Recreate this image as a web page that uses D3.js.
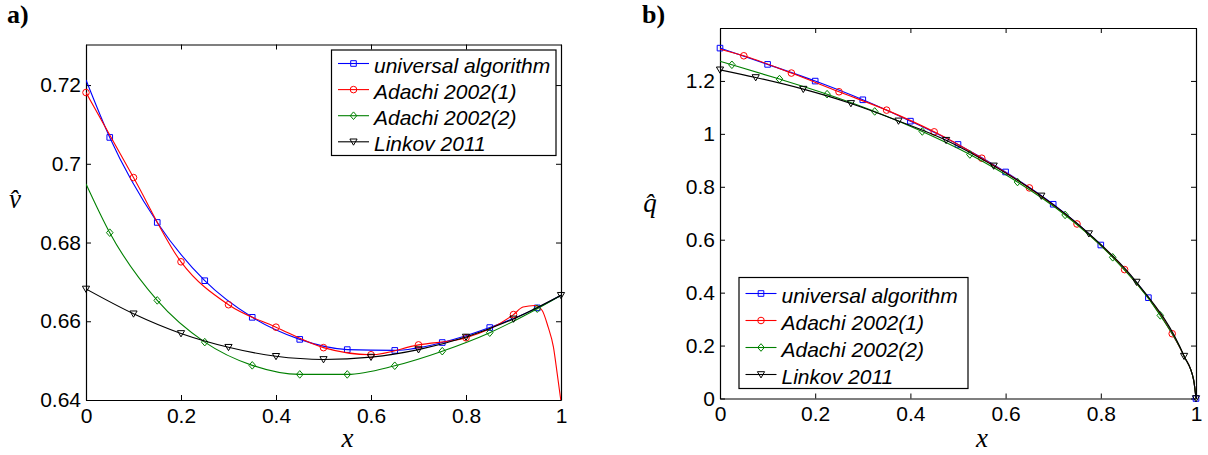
<!DOCTYPE html>
<html><head><meta charset="utf-8">
<script src="https://cdn.jsdelivr.net/npm/d3@7"></script>
<style>body{margin:0;background:#fff}svg{display:block}</style>
</head><body><svg id="c" width="1208" height="455"></svg>
<script>
// ---------- shared ----------
const xTicks = [0, 0.2, 0.4, 0.6, 0.8, 1];
const xTickLabels = ["0", "0.2", "0.4", "0.6", "0.8", "1"];
const seriesNames = ["universal algorithm", "Adachi 2002(1)", "Adachi 2002(2)", "Linkov 2011"];
const seriesColors = ["#0000ff", "#ff0000", "#008000", "#000000"];
const seriesMarkers = ["square", "circle", "diamond", "triangle"];

// ---------- panel a) ----------
const aYTicks = [0.64, 0.66, 0.68, 0.70, 0.72];
const aYTickLabels = ["0.64", "0.66", "0.68", "0.7", "0.72"];
const aBlueX = [0, 0.05, 0.15, 0.25, 0.35, 0.45, 0.55, 0.65, 0.75, 0.85, 0.95, 1];
const aBlueY = [0.7213, 0.7067, 0.6851, 0.6703, 0.6610, 0.6554, 0.6528, 0.6526, 0.6546, 0.6584, 0.6634, 0.6666];
const aBlueMarkX = [0.05, 0.15, 0.25, 0.35, 0.45, 0.55, 0.65, 0.75, 0.85, 0.95];
const aRedX = [0, 0.1, 0.2, 0.3, 0.4, 0.5, 0.6, 0.7, 0.8, 0.9, 0.92, 0.945, 0.96, 0.973, 0.984, 0.992, 1];
const aRedY = [0.7181, 0.6965, 0.6751, 0.6642, 0.6585, 0.6533, 0.6515, 0.6540, 0.6558, 0.6617, 0.6636, 0.6640, 0.6628, 0.6585, 0.6535, 0.6467, 0.6396];
const aRedMarkX = [0, 0.1, 0.2, 0.3, 0.4, 0.5, 0.6, 0.7, 0.8, 0.9];
const aGreenX = [0, 0.05, 0.15, 0.25, 0.35, 0.45, 0.55, 0.65, 0.75, 0.85, 0.95, 1];
const aGreenY = [0.6949, 0.6825, 0.6653, 0.6547, 0.6488, 0.6465, 0.6465, 0.6487, 0.6524, 0.6571, 0.6632, 0.6666];
const aGreenMarkX = [0.05, 0.15, 0.25, 0.35, 0.45, 0.55, 0.65, 0.75, 0.85, 0.95];
const aBlackX = [0, 0.1, 0.2, 0.3, 0.4, 0.5, 0.6, 0.7, 0.8, 0.9, 1];
const aBlackY = [0.6682, 0.6619, 0.6569, 0.6534, 0.6511, 0.6503, 0.6509, 0.6528, 0.6560, 0.6606, 0.6666];
const aBlackMarkX = [0, 0.1, 0.2, 0.3, 0.4, 0.5, 0.6, 0.7, 0.8, 0.9, 1];

// ---------- panel b) ----------
const bYTicks = [0, 0.2, 0.4, 0.6, 0.8, 1, 1.2];
const bYTickLabels = ["0", "0.2", "0.4", "0.6", "0.8", "1", "1.2"];
const bBlueX = [0, 0.1, 0.2, 0.3, 0.4, 0.5, 0.6, 0.7, 0.8, 0.9, 0.95, 0.975, 0.995, 1];
const bBlueY = [1.324, 1.2625, 1.1994, 1.1287, 1.048, 0.960, 0.856, 0.734, 0.580, 0.381, 0.245, 0.160, 0.07, 0];
const bBlueMarkX = [0, 0.1, 0.2, 0.3, 0.4, 0.5, 0.6, 0.7, 0.8, 0.9, 1];
const bRedX = [0, 0.05, 0.15, 0.25, 0.35, 0.45, 0.55, 0.65, 0.75, 0.85, 0.95, 0.975, 0.995, 1];
const bRedY = [1.320, 1.295, 1.2297, 1.159, 1.0897, 1.0076, 0.908, 0.7957, 0.6595, 0.487, 0.2448, 0.160, 0.07, 0];
const bRedMarkX = [0.05, 0.15, 0.25, 0.35, 0.45, 0.55, 0.65, 0.75, 0.85, 0.95];
const bGreenX = [0, 0.025, 0.125, 0.225, 0.325, 0.425, 0.525, 0.625, 0.725, 0.825, 0.925, 0.975, 0.995, 1];
const bGreenY = [1.274, 1.261, 1.207, 1.150, 1.0847, 1.009, 0.922, 0.818, 0.6936, 0.5335, 0.314, 0.160, 0.07, 0];
const bGreenMarkX = [0.025, 0.125, 0.225, 0.325, 0.425, 0.525, 0.625, 0.725, 0.825, 0.925];
const bBlackX = [0, 0.075, 0.175, 0.275, 0.375, 0.475, 0.575, 0.675, 0.775, 0.875, 0.975, 0.995, 1];
const bBlackY = [1.242, 1.213, 1.169, 1.115, 1.049, 0.976, 0.879, 0.7655, 0.623, 0.440, 0.160, 0.07, 0];
const bBlackMarkX = [0, 0.075, 0.175, 0.275, 0.375, 0.475, 0.575, 0.675, 0.775, 0.875, 0.975, 1];

// ---------- drawing ----------
const svg = d3.select("#c");
svg.append("rect").attr("width", 1208).attr("height", 455).attr("fill", "#fff");
const defs = svg.append("defs");

function markerPath(type) {
  switch (type) {
    case "square": return "M-2.8,-2.8H2.8V2.8H-2.8Z";
    case "circle": return d3.symbol(d3.symbolCircle, Math.PI * 3.3 * 3.3)();
    case "diamond": return "M0,-3.8L3.3,0L0,3.8L-3.3,0Z";
    case "triangle": return "M-3.6,-2.8L3.6,-2.8L0,3.4Z";
  }
}

const sansFont = "'Liberation Sans', Arial, Helvetica, sans-serif";
const serifFont = "'Liberation Serif', 'Times New Roman', serif";

function panel(cfg) {
  const x = d3.scaleLinear().domain([0, 1]).range([cfg.left, cfg.right]);
  const y = d3.scaleLinear().domain(cfg.yDomain).range([cfg.bottom, cfg.top]);
  const g = svg.append("g");
  const clipId = "clip" + cfg.id;
  defs.append("clipPath").attr("id", clipId).append("rect")
    .attr("x", cfg.left).attr("y", cfg.top)
    .attr("width", cfg.right - cfg.left).attr("height", cfg.bottom - cfg.top);

  // axes (box with inward ticks)
  const fmt = labels => (d, i) => labels[i];
  const ax = [
    g.append("g").attr("transform", `translate(0,${cfg.bottom})`)
      .call(d3.axisBottom(x).tickValues(xTicks).tickFormat(fmt(xTickLabels)).tickSizeInner(-5).tickSizeOuter(0).tickPadding(8)),
    g.append("g").attr("transform", `translate(0,${cfg.top})`)
      .call(d3.axisTop(x).tickValues(xTicks).tickFormat("").tickSizeInner(-5).tickSizeOuter(0)),
    g.append("g").attr("transform", `translate(${cfg.left},0)`)
      .call(d3.axisLeft(y).tickValues(cfg.yTicks).tickFormat(fmt(cfg.yTickLabels)).tickSizeInner(-5).tickSizeOuter(0).tickPadding(5)),
    g.append("g").attr("transform", `translate(${cfg.right},0)`)
      .call(d3.axisRight(y).tickValues(cfg.yTicks).tickFormat("").tickSizeInner(-5).tickSizeOuter(0))
  ];
  ax.forEach(a => {
    a.attr("font-family", sansFont).attr("font-size", 21);
    a.select(".domain").attr("stroke", "#000").attr("stroke-width", 1.2);
    a.selectAll(".tick line").attr("stroke", "#000").attr("stroke-width", 1);
    a.selectAll(".tick text").attr("fill", "#000");
  });

  // data
  const line = d3.line().x(d => x(d[0])).y(d => y(d[1])).curve(d3.curveMonotoneX);
  cfg.series.forEach((s, i) => {
    const pts = s.x.map((v, j) => [v, s.y[j]]);
    const sg = g.append("g");
    sg.append("path").attr("d", line(pts)).attr("clip-path", `url(#${clipId})`)
      .attr("fill", "none").attr("stroke", seriesColors[i]).attr("stroke-width", 1.1);
    const mk = pts.filter(p => s.mx.some(m => Math.abs(m - p[0]) < 1e-9));
    sg.selectAll(null).data(mk).enter().append("path")
      .attr("transform", d => `translate(${x(d[0])},${y(d[1])})`)
      .attr("d", markerPath(seriesMarkers[i]))
      .attr("fill", "none").attr("stroke", seriesColors[i]).attr("stroke-width", 1);
  });

  // legend
  const L = cfg.legend;
  const lg = g.append("g");
  lg.append("rect").attr("x", L.x).attr("y", L.y).attr("width", L.w).attr("height", L.h)
    .attr("fill", "#fff").attr("stroke", "#000").attr("stroke-width", 1.2);
  seriesNames.forEach((n, i) => {
    const cy = L.row0 + i * L.dy;
    lg.append("line").attr("x1", L.x + 6.5).attr("x2", L.x + 37.5).attr("y1", cy).attr("y2", cy)
      .attr("stroke", seriesColors[i]).attr("stroke-width", 1.1);
    lg.append("path").attr("transform", `translate(${L.x + 22},${cy})`).attr("d", markerPath(seriesMarkers[i]))
      .attr("fill", "none").attr("stroke", seriesColors[i]).attr("stroke-width", 1);
    lg.append("text").attr("x", L.x + 42.5).attr("y", cy + 1.5).attr("dominant-baseline", "central")
      .attr("font-family", sansFont).attr("font-style", "italic").attr("font-size", 21).attr("fill", "#000")
      .text(n);
  });

  // axis labels
  g.append("text").attr("x", cfg.xLabelX).attr("y", 447).attr("text-anchor", "middle")
    .attr("font-family", serifFont).attr("font-style", "italic").attr("font-size", 27).text("x");
  g.append("text").attr("x", cfg.yLabel.x).attr("y", cfg.yLabel.y).attr("text-anchor", "middle")
    .attr("font-family", serifFont).attr("font-style", "italic").attr("font-size", 27)
    .text(cfg.yLabel.t + "\u0302");

  // panel tag
  g.append("text").attr("x", cfg.tag.x).attr("y", 23).attr("font-family", serifFont)
    .attr("font-weight", "bold").attr("font-size", 26).attr("fill", "#000").text(cfg.tag.t);
}

panel({
  id: "a", left: 86, right: 561, top: 44.5, bottom: 400,
  yDomain: [0.64, 0.7303], yTicks: aYTicks, yTickLabels: aYTickLabels,
  series: [
    { x: aBlueX, y: aBlueY, mx: aBlueMarkX },
    { x: aRedX, y: aRedY, mx: aRedMarkX },
    { x: aGreenX, y: aGreenY, mx: aGreenMarkX },
    { x: aBlackX, y: aBlackY, mx: aBlackMarkX }
  ],
  legend: { x: 331.5, y: 50, w: 224.5, h: 105.5, row0: 63.5, dy: 26.1 },
  xLabelX: 347.5, yLabel: { x: 15, y: 208, t: "v" },
  tag: { x: 7, t: "a)" }
});

panel({
  id: "b", left: 720, right: 1196, top: 28, bottom: 398.5,
  yDomain: [0, 1.4], yTicks: bYTicks, yTickLabels: bYTickLabels,
  series: [
    { x: bBlueX, y: bBlueY, mx: bBlueMarkX },
    { x: bRedX, y: bRedY, mx: bRedMarkX },
    { x: bGreenX, y: bGreenY, mx: bGreenMarkX },
    { x: bBlackX, y: bBlackY, mx: bBlackMarkX }
  ],
  legend: { x: 739, y: 277.5, w: 229, h: 111, row0: 293.5, dy: 27 },
  xLabelX: 982, yLabel: { x: 650, y: 212, t: "q" },
  tag: { x: 642, t: "b)" }
});
</script>
</body></html>
